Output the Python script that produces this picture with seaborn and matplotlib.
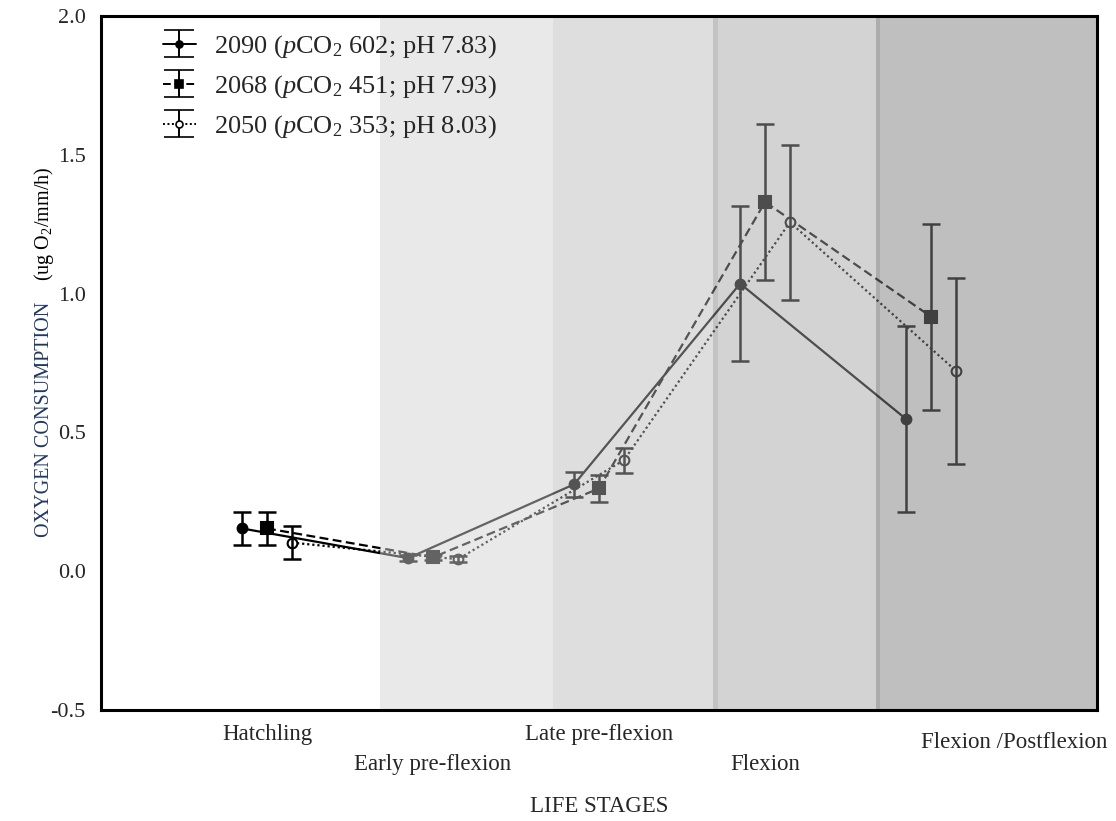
import numpy as np
import pandas as pd
import matplotlib
matplotlib.use("Agg")
import matplotlib.pyplot as plt
from matplotlib.transforms import ScaledTranslation
import seaborn as sns

# ---- data -------------------------------------------------------------
stages = ["Hatchling", "Early pre-flexion", "Late pre-flexion", "Flexion",
          "Flexion /Postflexion"]

mean_2090 = [0.154, 0.047, 0.313, 1.036, 0.548]
err_2090 = [0.060, 0.012, 0.045, 0.280, 0.335]

mean_2068 = [0.154, 0.050, 0.298, 1.330, 0.917]
err_2068 = [0.060, 0.010, 0.050, 0.280, 0.335]

mean_2050 = [0.103, 0.043, 0.400, 1.257, 0.722]
err_2050 = [0.060, 0.010, 0.045, 0.280, 0.335]

scenario_labels = [
    r"2090 ($\mathit{p}$CO$_2$ 602; pH 7.83)",
    r"2068 ($\mathit{p}$CO$_2$ 451; pH 7.93)",
    r"2050 ($\mathit{p}$CO$_2$ 353; pH 8.03)",
]

y_ticks = [-0.5, 0.0, 0.5, 1.0, 1.5, 2.0]

# shaded developmental-stage bands: (start, end, overlay grey, alpha)
bands = [
    (0.681, 1.723, 209, 0.478),
    (1.723, 2.687, 185, 0.459),
    (2.687, 2.717, 138, 0.506),
    (2.717, 3.669, 164, 0.475),
    (3.669, 3.693, 107, 0.561),
    (3.693, 5.000, 129, 0.502),
]

# ---- style ------------------------------------------------------------
sns.set_theme(style="white")
plt.rcParams["font.family"] = ["Liberation Serif", "DejaVu Serif"]
plt.rcParams["mathtext.fontset"] = "custom"
plt.rcParams["mathtext.rm"] = "Liberation Serif"
plt.rcParams["mathtext.it"] = "Liberation Serif:italic"
plt.rcParams["mathtext.bf"] = "Liberation Serif:bold"
plt.rcParams["axes.unicode_minus"] = False

fig = plt.figure(figsize=(11.16, 8.21), dpi=100)
ax = fig.add_axes([0.0905, 0.1352, 0.8925, 0.8453])

offsets = [-0.15, 0.0, 0.15]
series = [
    dict(mean=mean_2090, err=err_2090, ls="-", marker="o", ms=7, mfc="black"),
    dict(mean=mean_2068, err=err_2068, ls=(0, (4, 2)), marker="s", ms=8, mfc="black"),
    dict(mean=mean_2050, err=err_2050, ls=(0, (1, 1.3)), marker="o", ms=7, mfc="white"),
]

xpos = np.arange(len(stages))
for s, off, lab in zip(series, offsets, scenario_labels):
    df = pd.DataFrame({"x": xpos + off, "y": s["mean"], "e": s["err"]})
    sns.lineplot(data=df, x="x", y="y", ax=ax, color="black", linewidth=1.6,
                 linestyle=s["ls"], marker=s["marker"], markersize=s["ms"],
                 markerfacecolor=s["mfc"], markeredgecolor="black",
                 markeredgewidth=1.5, legend=False, zorder=3, sort=False)
    ax.errorbar(df["x"], df["y"], yerr=df["e"], fmt="none", ecolor="black",
                elinewidth=1.8, capsize=6.5, capthick=1.8, zorder=3)
    # legend proxy
    ax.errorbar([np.nan], [np.nan], yerr=[np.nan], color="black",
                linestyle=s["ls"], linewidth=1.4, marker=s["marker"],
                markersize=s["ms"] - 2, markerfacecolor=s["mfc"],
                markeredgecolor="black", markeredgewidth=1.2,
                elinewidth=1.4, capsize=11, capthick=1.4, label=lab)

# translucent stage bands laid over the data
for x0, x1, g, a in bands:
    ax.axvspan(x0, x1, color=(g / 255, g / 255, g / 255), alpha=a, lw=0, zorder=4)

ax.set_xlim(-1, 5)
ax.set_ylim(-0.5, 2.0)
ax.set_yticks(y_ticks)
ax.set_yticklabels([f"{v:.1f}" for v in y_ticks])
ax.tick_params(axis="y", length=0, pad=11, labelsize=16)
ax.set_xticks(xpos)
ax.set_xticklabels(stages)
ax.tick_params(axis="x", length=0, labelsize=16.5)
pads = [10, 32, 10, 32, 16]
for tick, p in zip(ax.xaxis.get_major_ticks(), pads):
    tick.set_pad(p)
last = ax.xaxis.get_major_ticks()[-1].label1
last.set_transform(last.get_transform() + ScaledTranslation(0.83, 0, fig.dpi_scale_trans))

ax.set_xlabel("LIFE STAGES", fontsize=16.5, labelpad=15)
ax.set_ylabel("")
ax.text(-0.057, 0.419, "OXYGEN CONSUMPTION", rotation=90, transform=ax.transAxes,
        ha="center", va="center", fontsize=14.5, color="#1f3864")
ax.text(-0.057, 0.70, r"(ug O$_2$/mm/h)", rotation=90, transform=ax.transAxes,
        ha="center", va="center", fontsize=14.5, color="black")

for sp in ax.spines.values():
    sp.set_visible(True)
    sp.set_color("black")
    sp.set_linewidth(2.2)
    sp.set_zorder(6)

leg = ax.legend(loc="upper left", bbox_to_anchor=(0.062, 0.975), frameon=False,
                fontsize=19, handlelength=1.25, handletextpad=0.7,
                labelspacing=0.5, borderpad=0, borderaxespad=0)
leg.set_zorder(7)

fig.savefig("out.png", dpi=100)
